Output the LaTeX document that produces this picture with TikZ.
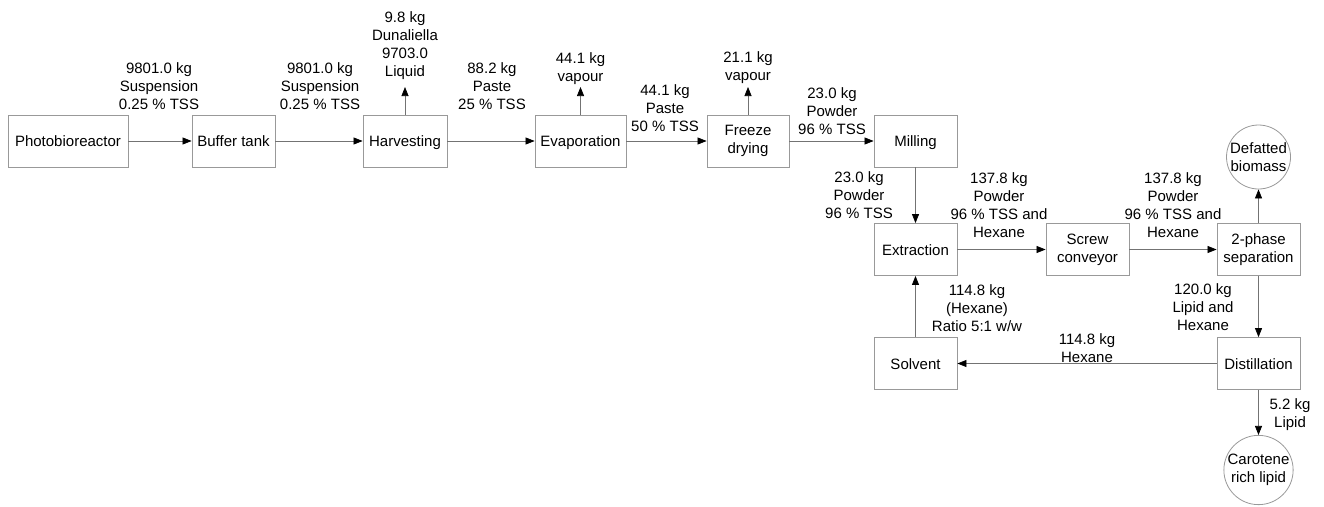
\documentclass[tikz,border=0pt]{standalone}
\usepackage{fontspec}
\setmainfont{Liberation Sans}
\usetikzlibrary{arrows.meta}
\begin{document}
\begin{tikzpicture}[x=1pt,y=-1pt,
  txt/.style={font=\fontsize{15}{18}\selectfont},
  box/.style={txt, draw=black!40, line width=0.8pt, minimum height=52pt, inner sep=0pt, align=center},
  one/.style={text height=11pt, text depth=0pt},
  circ/.style={txt, draw=black!40, line width=0.8pt, circle, minimum size=64pt, inner sep=0pt, align=center},
  lab/.style={txt, inner sep=0pt, align=center},
  flow/.style={draw=black!55, line width=0.7pt, -{Triangle[length=9pt,width=7pt,color=black]}}]
\useasboundingbox (0,0) rectangle (1324,506);
% process boxes
\node[box, one, minimum width=120pt] (pbr) at (68,141) {Photobioreactor};
\node[box, one, minimum width=83pt] (buf) at (233.5,141) {Buffer tank};
\node[box, one, minimum width=84pt] (harv) at (405,141) {Harvesting};
\node[box, one, minimum width=91pt] (evap) at (580.5,141) {Evaporation};
\node[box, minimum width=82pt] (frz) at (748,141) {Freeze\\drying};
\node[box, one, minimum width=83pt] (mill) at (915.5,141) {Milling};
\node[box, one, minimum width=83pt] (extr) at (915.5,249.5) {Extraction};
\node[box, minimum width=83pt] (screw) at (1087.5,249.5) {Screw\\conveyor};
\node[box, minimum width=83pt] (sep) at (1258.5,249.5) {2-phase\\separation};
\node[box, one, minimum width=83pt] (solv) at (915.5,363.5) {Solvent};
\node[box, one, minimum width=83pt] (dist) at (1258.5,363.5) {Distillation};
\node[circ] (def) at (1258.5,157) {Defatted\\biomass};
\node[circ] (car) at (1258.5,470) {Carotene\\rich lipid};
% free ends
\coordinate (hv) at (405,87);
\coordinate (ev) at (580.5,87);
\coordinate (fv) at (748,87);
% connectors
\draw[flow] (pbr) -- (buf);
\draw[flow] (buf) -- (harv);
\draw[flow] (harv) -- (hv);
\draw[flow] (harv) -- (evap);
\draw[flow] (evap) -- (ev);
\draw[flow] (evap) -- (frz);
\draw[flow] (frz) -- (fv);
\draw[flow] (frz) -- (mill);
\draw[flow] (mill) -- (extr);
\draw[flow] (extr) -- (screw);
\draw[flow] (screw) -- (sep);
\draw[flow] (sep) -- (def);
\draw[flow] (sep) -- (dist);
\draw[flow] (dist) -- (solv);
\draw[flow] (solv) -- (extr);
\draw[flow] (dist) -- (car);
% labels
\node[lab] (l1) at (159,86) {9801.0 kg\\Suspension\\0.25 \% TSS};
\node[lab] (l2) at (320,86) {9801.0 kg\\Suspension\\0.25 \% TSS};
\node[lab] (l3) at (405,46) {9.8 kg\\Dunaliella\\9703.0\\Liquid};
\node[lab] (l4) at (492,86) {88.2 kg\\Paste\\25 \% TSS};
\node[lab] (l5) at (580.5,69) {44.1 kg\\vapour};
\node[lab] (l6) at (665,108) {44.1 kg\\Paste\\50 \% TSS};
\node[lab] (l7) at (748,68) {21.1 kg\\vapour};
\node[lab] (l8) at (832,111) {23.0 kg\\Powder\\96 \% TSS};
\node[lab] (l9) at (859,195) {23.0 kg\\Powder\\96 \% TSS};
\node[lab] (l10) at (999,205.5) {137.8 kg\\Powder\\96 \% TSS and\\Hexane};
\node[lab] (l11) at (1173,205.5) {137.8 kg\\Powder\\96 \% TSS and\\Hexane};
\node[lab] (l12) at (1203,307) {120.0 kg\\Lipid and\\Hexane};
\node[lab] (l13) at (1087,348) {114.8 kg\\Hexane};
\node[lab] (l14) at (977,308) {114.8 kg\\(Hexane)\\Ratio 5:1 w/w};
\node[lab] (l15) at (1290,415) {5.2 kg\\Lipid};
\end{tikzpicture}
\end{document}
